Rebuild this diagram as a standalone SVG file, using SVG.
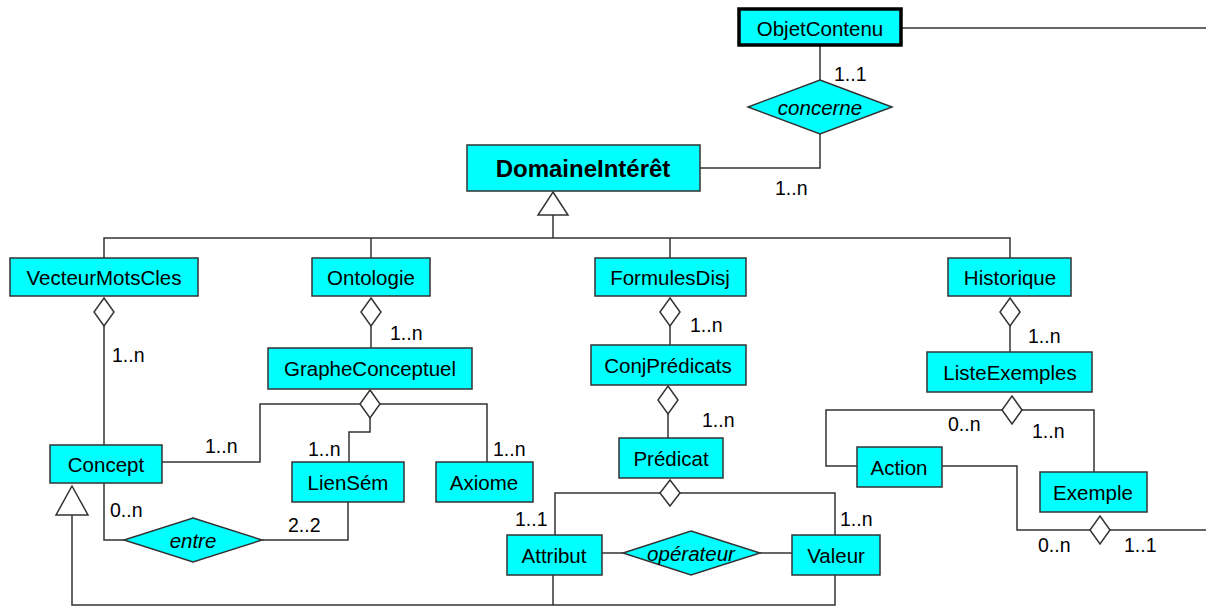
<svg xmlns="http://www.w3.org/2000/svg" width="1206" height="606" viewBox="0 0 1206 606">
<style>
.box{fill:#00ffff;stroke:#333;stroke-width:1.5}
.rel{fill:#00ffff;stroke:#333;stroke-width:1.5}
.t{font-family:"Liberation Sans",Arial,sans-serif;font-size:20.5px;fill:#000;text-anchor:middle;dominant-baseline:central}
.ti{font-family:"Liberation Sans",Arial,sans-serif;font-size:20.5px;fill:#000;text-anchor:middle;dominant-baseline:central;font-style:italic}
.lbl{font-family:"Liberation Sans",Arial,sans-serif;font-size:19.5px;fill:#000;dominant-baseline:central}
.ln{fill:none;stroke:#333;stroke-width:1.5}
.agg{fill:#fff;stroke:#333;stroke-width:1.5}
</style>
<rect width="1206" height="606" fill="#fff"/>
<g id="connectors">
<polyline class="ln" points="902,28 1206,28"/>
<polyline class="ln" points="820,46 820,80"/>
<polyline class="ln" points="820,134 820,168 700,168"/>
<polyline class="ln" points="553,215 553,238"/>
<polyline class="ln" points="104,258 104,238 1010,238 1010,258"/>
<polyline class="ln" points="371,238 371,258"/>
<polyline class="ln" points="670,238 670,258"/>
<polygon class="agg" points="553,192 568,215 538,215"/>
<polyline class="ln" points="104,326 104,445"/>
<polygon class="agg" points="104,298 114,312 104,326 94,312"/>
<polyline class="ln" points="371,326 371,348"/>
<polygon class="agg" points="371,298 381,312 371,326 361,312"/>
<polyline class="ln" points="162,462 260,462 260,404 487,404 487,462"/>
<polyline class="ln" points="370,418 370,432 349,432 349,462"/>
<polygon class="agg" points="370,390 380,404 370,418 360,404"/>
<polyline class="ln" points="104,483 104,540 124,540"/>
<polyline class="ln" points="262,540 348,540 348,502"/>
<polyline class="ln" points="72,515 72,605 835,605 835,575"/>
<polyline class="ln" points="553,575 553,605"/>
<polygon class="agg" points="72,486 88,515 56,515"/>
<polyline class="ln" points="670,326 670,345"/>
<polygon class="agg" points="670,298 680,312 670,326 660,312"/>
<polyline class="ln" points="668,414 668,438"/>
<polygon class="agg" points="668,386 678,400 668,414 658,400"/>
<polyline class="ln" points="555,535 555,493 835,493 835,535"/>
<polygon class="agg" points="670,480 680,493 670,506 660,493"/>
<polyline class="ln" points="602,553 623,553"/>
<polyline class="ln" points="760,553 792,553"/>
<polyline class="ln" points="1010,326 1010,352"/>
<polygon class="agg" points="1010,298 1020,312 1010,326 1000,312"/>
<polyline class="ln" points="857,466 826,466 826,410 1094,410 1094,472"/>
<polygon class="agg" points="1012,396 1022,410 1012,424 1002,410"/>
<polyline class="ln" points="942,466 1017,466 1017,530 1206,530"/>
<polygon class="agg" points="1100,516 1110,530 1100,544 1090,530"/>
</g>
<g id="labels">
<text class="lbl" x="834" y="74">1..1</text>
<text class="lbl" x="775" y="188">1..n</text>
<text class="lbl" x="112" y="355">1..n</text>
<text class="lbl" x="390" y="333">1..n</text>
<text class="lbl" x="205" y="446">1..n</text>
<text class="lbl" x="308" y="449">1..n</text>
<text class="lbl" x="493" y="449">1..n</text>
<text class="lbl" x="110" y="510">0..n</text>
<text class="lbl" x="288" y="525">2..2</text>
<text class="lbl" x="690" y="325">1..n</text>
<text class="lbl" x="702" y="420">1..n</text>
<text class="lbl" x="515" y="519">1..1</text>
<text class="lbl" x="840" y="519">1..n</text>
<text class="lbl" x="1028" y="336">1..n</text>
<text class="lbl" x="948" y="424">0..n</text>
<text class="lbl" x="1032" y="431">1..n</text>
<text class="lbl" x="1038" y="545">0..n</text>
<text class="lbl" x="1124" y="545">1..1</text>
</g>
<g id="ObjetContenu"><rect x="739" y="9" width="162" height="36" fill="#00ffff" stroke="#000" stroke-width="3.5"/><text class="t" x="820" y="28">ObjetContenu</text></g>
<g id="concerne"><polygon class="rel" points="820,80 892,107 820,134 748,107"/><text class="ti" x="820" y="107">concerne</text></g>
<g id="DomaineInteret"><rect class="box" x="467" y="145" width="233" height="46"/><text class="t" x="583" y="168" style="font-weight:bold;font-size:24px">DomaineIntérêt</text></g>
<g id="VecteurMotsCles"><rect class="box" x="10" y="258" width="188" height="38"/><text class="t" x="104" y="277">VecteurMotsCles</text></g>
<g id="Ontologie"><rect class="box" x="312" y="258" width="118" height="38"/><text class="t" x="371" y="277">Ontologie</text></g>
<g id="FormulesDisj"><rect class="box" x="595" y="258" width="151" height="38"/><text class="t" x="670" y="277">FormulesDisj</text></g>
<g id="Historique"><rect class="box" x="948" y="258" width="123" height="38"/><text class="t" x="1010" y="277">Historique</text></g>
<g id="GrapheConceptuel"><rect class="box" x="268" y="348" width="204" height="41"/><text class="t" x="370" y="368">GrapheConceptuel</text></g>
<g id="ConjPredicats"><rect class="box" x="591" y="345" width="155" height="40"/><text class="t" x="668" y="365">ConjPrédicats</text></g>
<g id="ListeExemples"><rect class="box" x="927" y="352" width="165" height="40"/><text class="t" x="1010" y="372">ListeExemples</text></g>
<g id="Concept"><rect class="box" x="50" y="445" width="112" height="38"/><text class="t" x="106" y="464">Concept</text></g>
<g id="LienSem"><rect class="box" x="292" y="462" width="112" height="40"/><text class="t" x="348" y="482">LienSém</text></g>
<g id="Axiome"><rect class="box" x="436" y="462" width="97" height="40"/><text class="t" x="484" y="482">Axiome</text></g>
<g id="Predicat"><rect class="box" x="619" y="438" width="104" height="40"/><text class="t" x="671" y="458">Prédicat</text></g>
<g id="Action"><rect class="box" x="857" y="447" width="85" height="40"/><text class="t" x="899" y="467">Action</text></g>
<g id="Exemple"><rect class="box" x="1040" y="472" width="107" height="40"/><text class="t" x="1093" y="492">Exemple</text></g>
<g id="entre"><polygon class="rel" points="193,518 262,540 193,562 124,540"/><text class="ti" x="193" y="540">entre</text></g>
<g id="Attribut"><rect class="box" x="507" y="535" width="95" height="40"/><text class="t" x="554" y="555">Attribut</text></g>
<g id="Valeur"><rect class="box" x="792" y="535" width="88" height="40"/><text class="t" x="836" y="555">Valeur</text></g>
<g id="operateur"><polygon class="rel" points="691,531 760,553 691,575 623,553"/><text class="ti" x="691" y="553">opérateur</text></g>
</svg>
